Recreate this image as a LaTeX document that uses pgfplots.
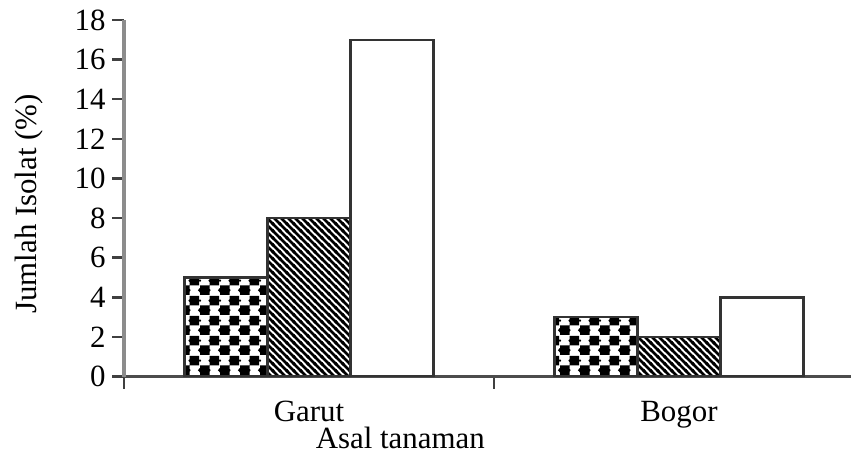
\documentclass[border=0pt]{standalone}
\usepackage{pgfplots}
\pgfplotsset{compat=1.18}
\usepackage{fontspec}
\setmainfont{Liberation Serif}
\usetikzlibrary{patterns}

\pgfdeclarepatternformonly{checkdots}{\pgfqpoint{0bp}{0bp}}{\pgfqpoint{20bp}{20bp}}{\pgfqpoint{20bp}{20bp}}{%
 \pgfpathrectangle{\pgfqpoint{0bp}{0bp}}{\pgfqpoint{10bp}{10bp}}%
 \pgfpathrectangle{\pgfqpoint{10bp}{10bp}}{\pgfqpoint{10bp}{10bp}}%
 \pgfpathellipse{\pgfqpoint{5bp}{5bp}}{\pgfqpoint{6.2bp}{0bp}}{\pgfqpoint{0bp}{3bp}}%
 \pgfpathellipse{\pgfqpoint{15bp}{15bp}}{\pgfqpoint{6.2bp}{0bp}}{\pgfqpoint{0bp}{3bp}}%
 \pgfpathellipse{\pgfqpoint{-5bp}{15bp}}{\pgfqpoint{6.2bp}{0bp}}{\pgfqpoint{0bp}{3bp}}%
 \pgfpathellipse{\pgfqpoint{25bp}{5bp}}{\pgfqpoint{6.2bp}{0bp}}{\pgfqpoint{0bp}{3bp}}%
 \pgfusepath{fill}}

\pgfdeclarepatternformonly{nwstripes}{\pgfqpoint{-1bp}{-1bp}}{\pgfqpoint{8bp}{8bp}}{\pgfqpoint{7bp}{7bp}}{%
 \pgfsetlinewidth{2.8bp}%
 \pgfpathmoveto{\pgfqpoint{-1bp}{8bp}}\pgfpathlineto{\pgfqpoint{8bp}{-1bp}}%
 \pgfpathmoveto{\pgfqpoint{-1bp}{1bp}}\pgfpathlineto{\pgfqpoint{1bp}{-1bp}}%
 \pgfpathmoveto{\pgfqpoint{6bp}{8bp}}\pgfpathlineto{\pgfqpoint{8bp}{6bp}}%
 \pgfusepath{stroke}}

\begin{document}
\begin{tikzpicture}
\begin{axis}[
  at={(124bp,78.5bp)}, anchor=south west, scale only axis,
  width=727bp, height=356.5bp,
  xmin=-0.5, xmax=1.465, ymin=0, ymax=18,
  ybar=0pt, bar width=83bp,
  axis x line*=bottom, axis y line*=left,
  x axis line style={draw=black!70, line width=2.5bp, -},
  y axis line style={draw=black!45, line width=3bp, -},
  tick align=outside, major tick length=12bp,
  ytick={0,2,...,18},
  y tick style={draw=black!75, line width=2.5bp},
  x tick style={draw=black!75, line width=2.5bp},
  /pgf/number format/assume math mode=true,
  yticklabel style={font=\fontsize{31}{32}\selectfont, xshift=-3bp},
  xtick={-0.5,0.5}, xticklabels={},
  extra x ticks={0,1}, extra x tick labels={Garut,Bogor},
  extra x tick style={major tick length=0pt, x tick style={draw=none}},
  xticklabel style={font=\fontsize{31}{32}\selectfont, yshift=-21bp},
  xlabel={Asal tanaman},
  ylabel={Jumlah Isolat (\%)},
  xlabel style={font=\fontsize{31}{32}\selectfont, at={(axis description cs:0.38,0)}, anchor=base, yshift=-72bp},
  ylabel style={font=\fontsize{31}{32}\selectfont, at={(axis description cs:0,0.484)}, anchor=center, yshift=95bp},
]
\addplot[draw=black!80, line width=2.5bp, pattern=checkdots] coordinates {(0,5) (1,3)};
\addplot[draw=black!80, line width=2.5bp, pattern=nwstripes] coordinates {(0,8) (1,2)};
\addplot[draw=black!80, line width=2.5bp, fill=white] coordinates {(0,17) (1,4)};
\end{axis}
\pgfresetboundingbox
\useasboundingbox (0,0) rectangle (851bp,455bp);
\end{tikzpicture}
\end{document}
